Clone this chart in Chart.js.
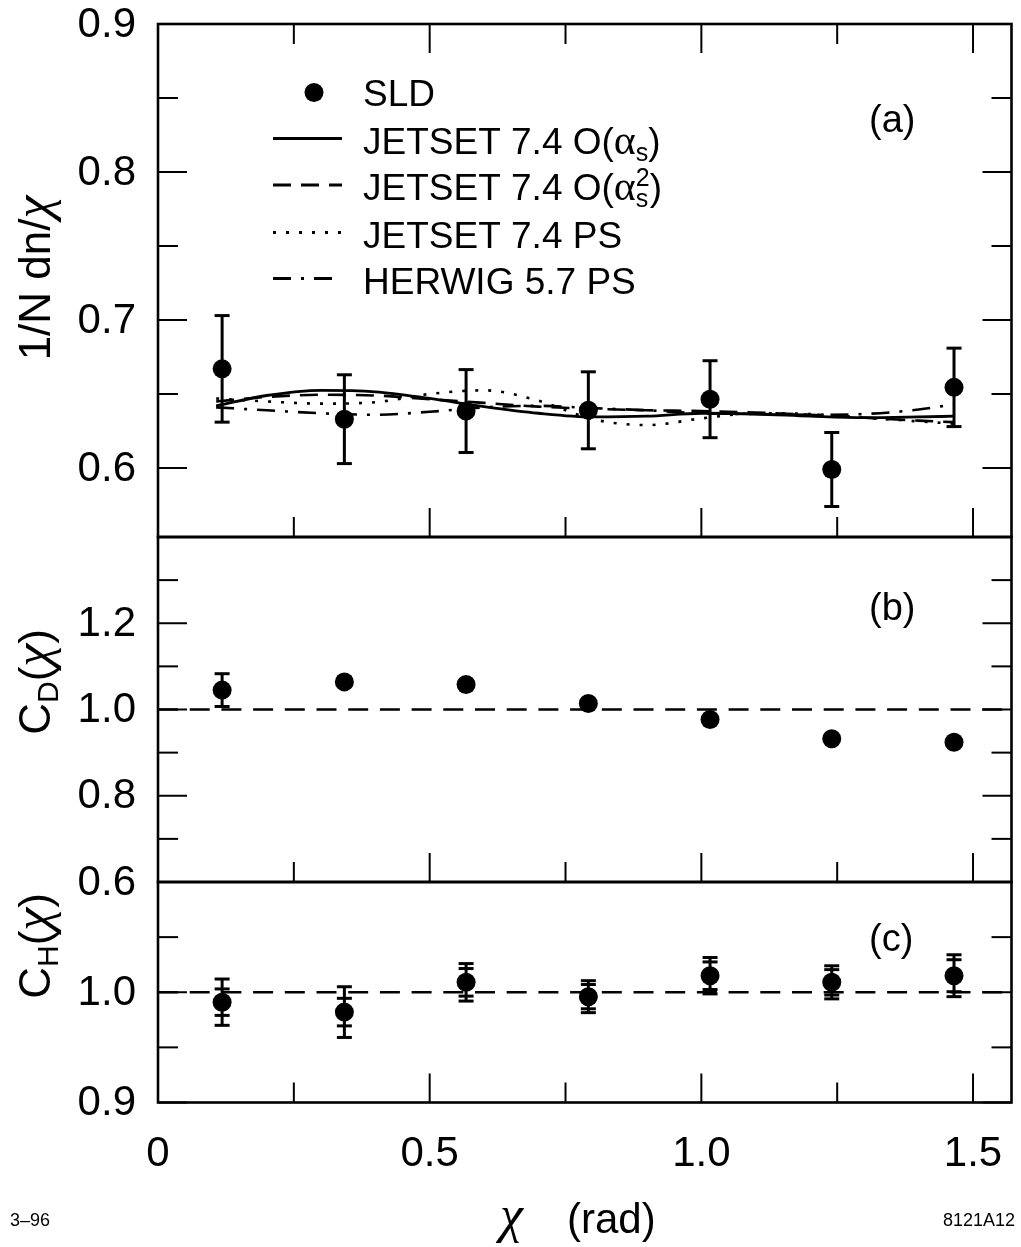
<!DOCTYPE html>
<html><head><meta charset="utf-8">
<script src="https://cdn.jsdelivr.net/npm/chart.js@4.4.0/dist/chart.umd.min.js"></script>
<style>
html,body{margin:0;padding:0;background:#fff;}
#wrap{position:relative;width:1021px;height:1247px;background:#fff;}
#wrap canvas{position:absolute;left:0;top:0;}
</style></head><body>
<div id="wrap">
<canvas id="ca" width="1021" height="1247"></canvas>
<canvas id="cb" width="1021" height="1247"></canvas>
<canvas id="cc" width="1021" height="1247"></canvas>
</div>
<script>
// ---------------- data ----------------
const xTickMajor = [0, 0.5, 1.0, 1.5];
const xTickMinor = [0.25, 0.75, 1.25];
const xTickLabels = ['0', '0.5', '1.0', '1.5'];

const binX = [0.118, 0.343, 0.567, 0.792, 1.016, 1.240, 1.465];

// panel (a)
const sldA = [0.667, 0.633, 0.6385, 0.639, 0.6465, 0.599, 0.6545];
const errA = [0.036, 0.030, 0.028, 0.026, 0.026, 0.025, 0.0265];
const curveX    = [0.107, 0.2, 0.3, 0.4, 0.5, 0.6, 0.7, 0.8, 0.9, 1.0, 1.1, 1.2, 1.3, 1.4, 1.464];
const jetsetAs  = [0.642, 0.649, 0.6525, 0.6515, 0.647, 0.6415, 0.637, 0.6345, 0.635, 0.637, 0.6365, 0.635, 0.634, 0.6345, 0.635];
const jetsetAs2 = [0.645, 0.648, 0.6495, 0.649, 0.6465, 0.644, 0.6415, 0.640, 0.639, 0.6385, 0.6375, 0.636, 0.634, 0.632, 0.631];
const jetsetPS  = [0.647, 0.645, 0.6435, 0.6445, 0.650, 0.6525, 0.6455, 0.633, 0.629, 0.6335, 0.637, 0.6365, 0.634, 0.6315, 0.630];
const herwigPS  = [0.641, 0.639, 0.637, 0.636, 0.638, 0.641, 0.642, 0.6405, 0.639, 0.637, 0.6365, 0.636, 0.6365, 0.6395, 0.643];
const yTickMajorA = [0.6, 0.7, 0.8, 0.9];
const yTickMinorA = [0.65, 0.75, 0.85];
const yTickLabelsA = ['0.6', '0.7', '0.8', '0.9'];

// panel (b)
const cdB  = [1.045, 1.064, 1.058, 1.014, 0.977, 0.932, 0.924];
const errB = [0.038, 0, 0, 0, 0, 0, 0];
const yTickMajorB = [0.6, 0.8, 1.0, 1.2];
const yTickMinorB = [0.7, 0.9, 1.1, 1.3];
const yTickLabelsB = ['0.6', '0.8', '1.0', '1.2'];

// panel (c)
const chC      = [0.991, 0.982, 1.009, 0.996, 1.015, 1.009, 1.015];
const errCstat = [0.012, 0.0125, 0.0125, 0.011, 0.0125, 0.0115, 0.0145];
const errCtot  = [0.021, 0.023, 0.017, 0.0145, 0.0165, 0.015, 0.019];
const yTickMajorC = [0.9, 1.0];
const yTickMinorC = [0.95, 1.05];
const yTickLabelsC = ['0.9', '1.0'];

const refLineX = [0, 1.5708];
const refLineY = [1.0, 1.0];

// ---------------- style ----------------
const W = 1021, H = 1247;
const SANS = '"Liberation Sans", Arial, Helvetica, sans-serif';
const SERIF = '"Liberation Serif", "Times New Roman", serif';
const CHI = 'italic 52px ' + SERIF;
const PLOT_LEFT = 158, PLOT_RIGHT = 1015;
const X_MIN = 0, X_MAX = 1.5708;
const MAJ = 29, MIN = 20;
const DASH_AS2 = [18, 10];
const DASH_PS = [3, 10];
const DASH_HW = [18, 10, 3, 10];
const DASH_REF = [20, 11.7];

function pts(xs, ys) { return xs.map((x, i) => ({x, y: ys[i]})); }

function drawRich(ctx, x, y, segs) {
  let cx = x;
  for (const s of segs) {
    ctx.font = s.font;
    ctx.fillText(s.t, cx, y + (s.dy || 0));
    cx += (s.w !== undefined ? s.w : ctx.measureText(s.t).width);
  }
  return cx;
}
function richWidth(ctx, segs) {
  let w = 0;
  for (const s of segs) { ctx.font = s.font; w += (s.w !== undefined ? s.w : ctx.measureText(s.t).width); }
  return w;
}
function drawRotTitle(ctx, baseX, centerY, segs) {
  ctx.save();
  ctx.translate(baseX, centerY);
  ctx.rotate(-Math.PI / 2);
  ctx.textBaseline = 'alphabetic';
  ctx.textAlign = 'left';
  const w = richWidth(ctx, segs);
  drawRich(ctx, -w / 2, 0, segs);
  ctx.restore();
}

function frameAndTicks(chart, o) {
  const {ctx, chartArea: a, scales: {x, y}} = chart;
  ctx.save();
  ctx.strokeStyle = '#000';
  ctx.fillStyle = '#000';
  ctx.lineWidth = 2;
  ctx.lineCap = 'butt';
  const line = (x1, y1, x2, y2) => { ctx.beginPath(); ctx.moveTo(x1, y1); ctx.lineTo(x2, y2); ctx.stroke(); };
  xTickMajor.forEach(v => { const px = x.getPixelForValue(v); line(px, a.bottom, px, a.bottom - MAJ); if (o.topTicks) line(px, a.top, px, a.top + MAJ); });
  xTickMinor.forEach(v => { const px = x.getPixelForValue(v); line(px, a.bottom, px, a.bottom - MIN); if (o.topTicks) line(px, a.top, px, a.top + MIN); });
  o.yMajor.forEach(v => { const py = y.getPixelForValue(v); line(a.left, py, a.left + MAJ, py); line(a.right, py, a.right - MAJ, py); });
  o.yMinor.forEach(v => { const py = y.getPixelForValue(v); line(a.left, py, a.left + MIN, py); line(a.right, py, a.right - MIN, py); });
  ctx.lineWidth = 2.6;
  ctx.strokeRect(a.left, a.top, a.right - a.left, a.bottom - a.top);
  ctx.font = '42px ' + SANS;
  ctx.textAlign = 'right';
  ctx.textBaseline = 'middle';
  o.yMajor.forEach((v, i) => { ctx.fillText(o.yLabels[i], a.left - 22, y.getPixelForValue(v) + 1); });
  ctx.font = '38px ' + SANS;
  ctx.textAlign = 'left';
  ctx.fillText(o.panelLabel, 869, o.panelLabelY);
  drawRotTitle(ctx, 50, o.titleY, o.title);
  ctx.restore();
}

function drawErrorBars(chart, xs, ys, errs, capsets) {
  const {ctx, scales: {x, y}} = chart;
  ctx.save();
  ctx.strokeStyle = '#000';
  ctx.lineWidth = 3;
  const cap = 7.5;
  xs.forEach((xv, i) => {
    const e = errs[i];
    if (!e) return;
    const px = x.getPixelForValue(xv);
    const top = y.getPixelForValue(ys[i] + e), bot = y.getPixelForValue(ys[i] - e);
    ctx.beginPath(); ctx.moveTo(px, top); ctx.lineTo(px, bot); ctx.stroke();
    capsets.forEach(list => {
      const ev = list[i]; if (!ev) return;
      [ys[i] + ev, ys[i] - ev].forEach(v => {
        const py = y.getPixelForValue(v);
        ctx.beginPath(); ctx.moveTo(px - cap, py); ctx.lineTo(px + cap, py); ctx.stroke();
      });
    });
  });
  ctx.restore();
}

function baseOptions(top, bottom, ymin, ymax) {
  return {
    responsive: false,
    animation: false,
    devicePixelRatio: 1,
    layout: {padding: {left: PLOT_LEFT, right: W - PLOT_RIGHT, top: top, bottom: H - bottom}},
    plugins: {legend: {display: false}, tooltip: {enabled: false}},
    scales: {
      x: {type: 'linear', min: X_MIN, max: X_MAX, display: false},
      y: {type: 'linear', min: ymin, max: ymax, display: false}
    }
  };
}

function lineDS(xs, ys, dash, width) {
  return {type: 'scatter', data: pts(xs, ys), showLine: true, borderColor: '#000', borderWidth: width || 2.6,
          borderDash: dash, pointRadius: 0, fill: false, cubicInterpolationMode: 'monotone', borderCapStyle: 'butt'};
}
function pointDS(xs, ys) {
  return {type: 'scatter', data: pts(xs, ys), showLine: false, pointRadius: 9.5, pointBackgroundColor: '#000',
          pointBorderWidth: 0, pointHoverRadius: 9.5};
}

// ---------------- panel (a) ----------------
new Chart(document.getElementById('ca'), {
  type: 'scatter',
  data: {datasets: [
    lineDS(curveX, jetsetAs, [], 2.8),
    lineDS(curveX, jetsetAs2, DASH_AS2),
    lineDS(curveX, jetsetPS, DASH_PS),
    lineDS(curveX, herwigPS, DASH_HW),
    pointDS(binX, sldA)
  ]},
  options: baseOptions(24, 537, 0.5534, 0.9),
  plugins: [{
    id: 'decoA',
    beforeDatasetsDraw(chart) { drawErrorBars(chart, binX, sldA, errA, [errA]); },
    afterDraw(chart) {
      frameAndTicks(chart, {topTicks: true, yMajor: yTickMajorA, yMinor: yTickMinorA, yLabels: yTickLabelsA,
        panelLabel: '(a)', panelLabelY: 122, titleY: 278,
        title: [{t: '1/N dn/', font: '44px ' + SANS}, {t: 'χ', font: CHI}]});
      const ctx = chart.ctx;
      ctx.save();
      ctx.fillStyle = '#000'; ctx.strokeStyle = '#000';
      ctx.beginPath(); ctx.arc(314, 92.5, 9.5, 0, Math.PI * 2); ctx.fill();
      ctx.textAlign = 'left'; ctx.textBaseline = 'alphabetic';
      const F = '37px ' + SANS, FA = '42px ' + SERIF, FS = '25px ' + SANS;
      ctx.font = F; ctx.fillText('SLD', 363, 106);
      const rows = [
        {y: 138.5, dash: [], segs: [{t: 'JETSET 7.4 O(', font: F}, {t: 'α', font: FA}, {t: 's', font: FS, dy: 7}, {t: ')', font: F}]},
        {y: 185, dash: DASH_AS2, segs: [{t: 'JETSET 7.4 O(', font: F}, {t: 'α', font: FA}, {t: 's', font: FS, dy: 7, w: 0}, {t: '2', font: FS, dy: -14}, {t: ')', font: F}]},
        {y: 232.5, dash: DASH_PS, segs: [{t: 'JETSET 7.4 PS', font: F}]},
        {y: 278.5, dash: DASH_HW, segs: [{t: 'HERWIG 5.7 PS', font: F}]}
      ];
      rows.forEach(r => {
        ctx.lineWidth = 2.8; ctx.setLineDash(r.dash); ctx.lineCap = 'butt';
        ctx.beginPath(); ctx.moveTo(273, r.y); ctx.lineTo(342, r.y); ctx.stroke();
        ctx.setLineDash([]);
        drawRich(ctx, 363, r.y + 15, r.segs);
      });
      ctx.restore();
    }
  }]
});

// ---------------- panel (b) ----------------
new Chart(document.getElementById('cb'), {
  type: 'scatter',
  data: {datasets: [
    lineDS(refLineX, refLineY, DASH_REF, 2.6),
    pointDS(binX, cdB)
  ]},
  options: baseOptions(537, 882, 0.6, 1.4),
  plugins: [{
    id: 'decoB',
    beforeDatasetsDraw(chart) { drawErrorBars(chart, binX, cdB, errB, [errB]); },
    afterDraw(chart) {
      frameAndTicks(chart, {topTicks: false, yMajor: yTickMajorB, yMinor: yTickMinorB, yLabels: yTickLabelsB,
        panelLabel: '(b)', panelLabelY: 610, titleY: 682,
        title: [{t: 'C', font: '44px ' + SANS}, {t: 'D', font: '30px ' + SANS, dy: 8}, {t: '(', font: '44px ' + SANS},
                {t: 'χ', font: CHI}, {t: ')', font: '44px ' + SANS}]});
    }
  }]
});

// ---------------- panel (c) ----------------
new Chart(document.getElementById('cc'), {
  type: 'scatter',
  data: {datasets: [
    lineDS(refLineX, refLineY, DASH_REF, 2.6),
    pointDS(binX, chC)
  ]},
  options: baseOptions(882, 1102.5, 0.9, 1.1),
  plugins: [{
    id: 'decoC',
    beforeDatasetsDraw(chart) { drawErrorBars(chart, binX, chC, errCtot, [errCtot, errCstat]); },
    afterDraw(chart) {
      frameAndTicks(chart, {topTicks: false, yMajor: yTickMajorC, yMinor: yTickMinorC, yLabels: yTickLabelsC,
        panelLabel: '(c)', panelLabelY: 941, titleY: 946,
        title: [{t: 'C', font: '44px ' + SANS}, {t: 'H', font: '30px ' + SANS, dy: 8}, {t: '(', font: '44px ' + SANS},
                {t: 'χ', font: CHI}, {t: ')', font: '44px ' + SANS}]});
      const {ctx, scales: {x}} = chart;
      ctx.save();
      ctx.fillStyle = '#000';
      ctx.font = '42px ' + SANS;
      ctx.textAlign = 'center'; ctx.textBaseline = 'middle';
      xTickMajor.forEach((v, i) => ctx.fillText(xTickLabels[i], x.getPixelForValue(v), 1154));
      ctx.textAlign = 'left'; ctx.textBaseline = 'alphabetic';
      ctx.font = CHI; ctx.fillText('χ', 500, 1232);
      ctx.font = '42px ' + SANS; ctx.fillText('(rad)', 567, 1233);
      ctx.textBaseline = 'middle';
      ctx.font = '18px ' + SANS;
      ctx.fillText('3–96', 10, 1221);
      ctx.textAlign = 'right';
      ctx.fillText('8121A12', 1015, 1221);
      ctx.restore();
    }
  }]
});
</script>
</body></html>
